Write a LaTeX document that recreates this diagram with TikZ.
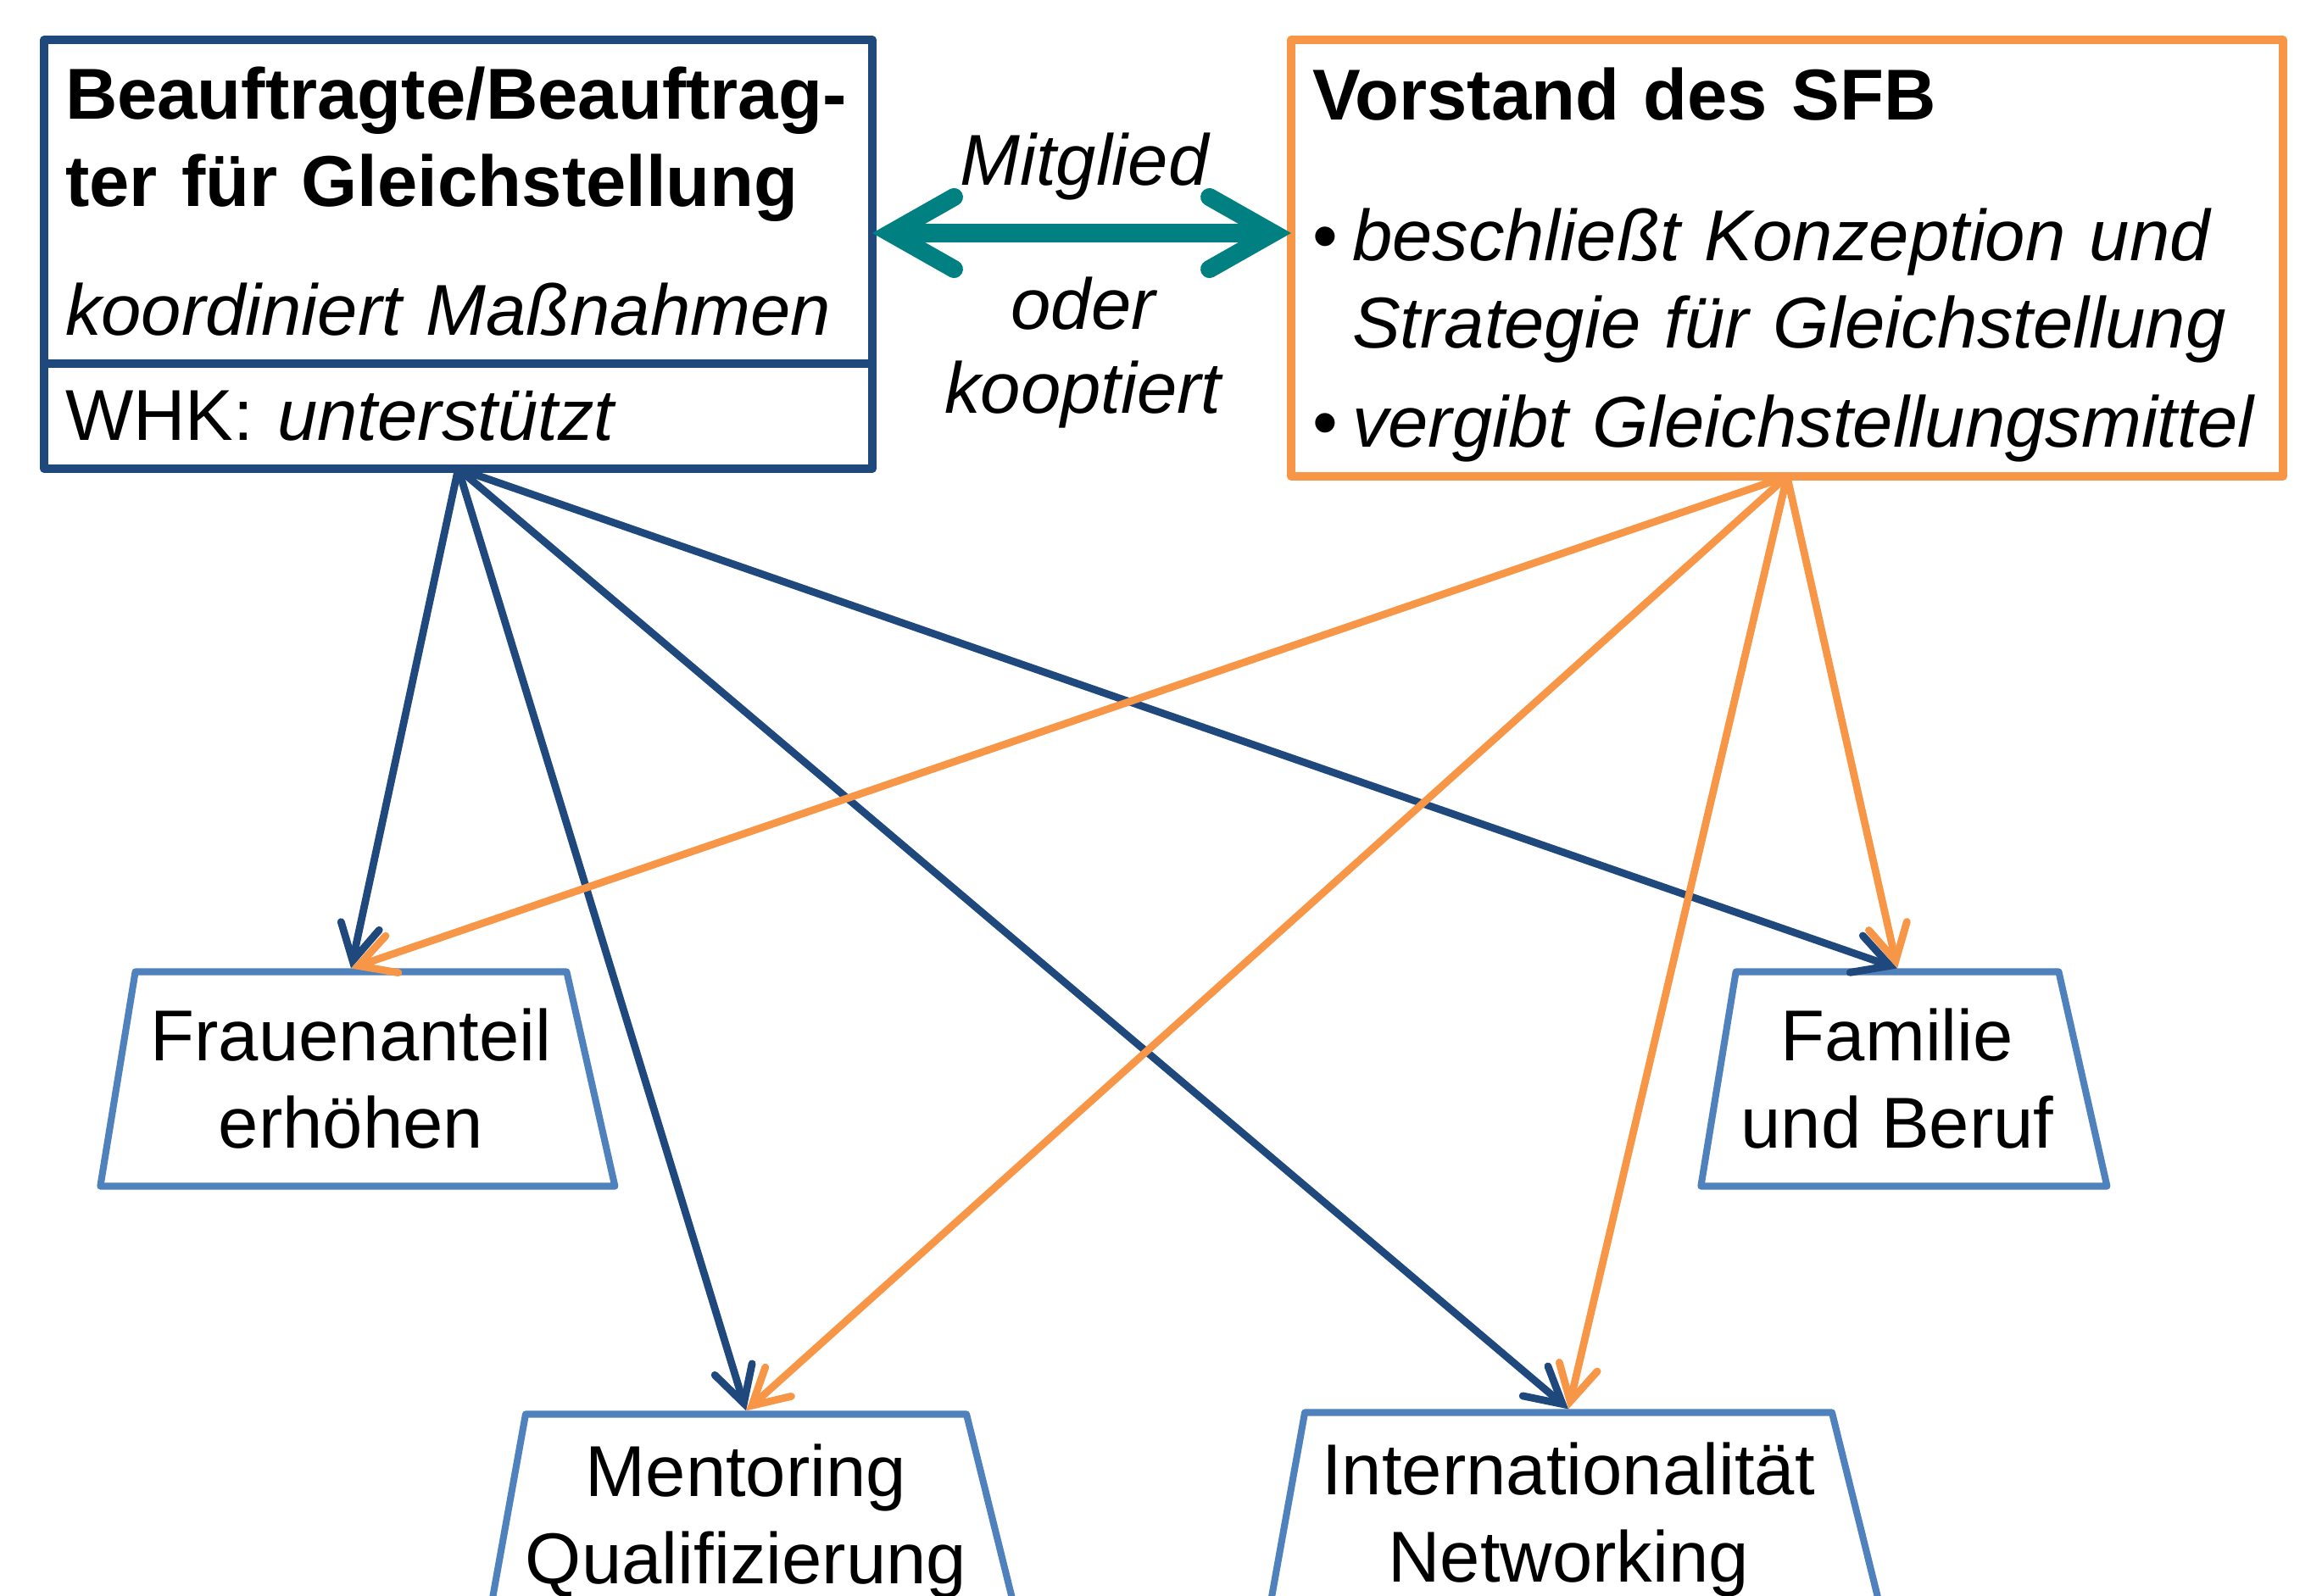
\documentclass[tikz,border=0pt]{standalone}
\usepackage{fontspec}
\setmainfont{Liberation Sans}
\usetikzlibrary{arrows.meta,positioning,shapes.geometric}

\definecolor{sfbblue}{RGB}{31,73,125}
\definecolor{sfblight}{RGB}{79,129,189}
\definecolor{sfborange}{RGB}{247,150,70}
\definecolor{sfbteal}{RGB}{0,128,128}

\tikzset{
  txt/.style={font=\fontsize{24.2}{29.3}\selectfont},
  box/.style={txt, draw, line width=2.8pt, line join=round, outer sep=0pt,
    inner xsep=0.25cm, inner ysep=0pt, align=left},
  goal/.style={txt, trapezium, draw=sfblight, line width=2.3pt, line join=round,
    trapezium left angle=76, trapezium right angle=71, trapezium stretches body,
    minimum height=2.53cm, align=center, inner sep=0pt},
  link/.style={line width=2.5pt, line cap=round,
    -{Straight Barb[length=4.2mm,width=4.6mm,line cap=round]}},
}

\begin{document}
\begin{tikzpicture}
    \useasboundingbox (0,0) rectangle (27.26,-18.82);

    % Leitung links, Vorstand rechts
    \node[box, draw=sfbblue, anchor=north west, minimum width=9.77cm, minimum height=3.82cm,
      text width=9.27cm] (lbox) at (0.52,-0.47)
      {\textbf{Beauftragte/Beauftrag-}\\
       \textbf{ter für Gleichstellung}\\[14pt]
       \textit{koordiniert Maßnahmen}};
    \node[box, draw=sfbblue, below=0pt of lbox, minimum width=9.77cm, minimum height=1.24cm,
      text width=9.27cm] (whk) {WHK: \textit{unterstützt}};
    \node[box, draw=sfborange, anchor=north west, minimum width=11.70cm, minimum height=5.15cm,
      text width=11.20cm] (rbox) at (15.23,-0.47)
      {\rule{0pt}{22pt}\textbf{Vorstand des SFB}\\[18pt]
       \makebox[0.47cm][l]{•}\textit{beschließt Konzeption und}\\
       \hspace*{0.47cm}\textit{Strategie für Gleichstellung}\\[4pt]
       \makebox[0.47cm][l]{•}\textit{vergibt Gleichstellungsmittel}};

    \coordinate (mid) at (12.78,-2.75);
    \draw[sfbteal, line width=6pt,
      {Straight Barb[length=7.5mm,width=8.5mm,line cap=round]}-{Straight Barb[length=7.5mm,width=8.5mm,line cap=round]}]
      (lbox.east |- mid) -- (rbox.west |- mid);
    \node[txt, anchor=base] (mitglied) at (12.80,-2.18) {\textit{Mitglied}};
    \node[txt, anchor=base] (oder) at (12.79,-3.88) {\textit{oder}};
    \node[txt, anchor=base] (koopt) at (12.79,-4.87) {\textit{kooptiert}};

    % Handlungsfelder
    \node[goal, minimum width=6.07cm] (frauen) at (4.14,-12.73) {Frauenanteil\\erhöhen};
    \node[goal, minimum width=4.79cm] (familie) at (22.38,-12.73) {Familie\\und Beruf};
    \node[goal, minimum width=6.10cm] (mentor) at (8.80,-17.95) {Mentoring\\Qualifizierung};
    \node[goal, minimum width=7.30cm] (intl) at (18.50,-17.93) {Internationalität\\Networking};

    \foreach \t in {frauen,mentor,intl,familie}
        \draw[link, sfbblue] (whk.south) -- (\t.north);
    \foreach \t in {frauen,mentor,intl,familie}
        \draw[link, sfborange] (rbox.south) -- (\t.north);
\end{tikzpicture}
\end{document}
